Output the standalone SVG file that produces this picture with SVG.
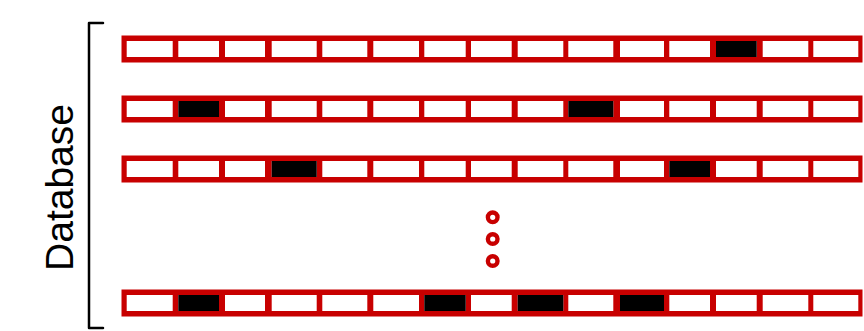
<svg xmlns="http://www.w3.org/2000/svg" xmlns:xlink="http://www.w3.org/1999/xlink" width="864" height="331" viewBox="0 0 864 331">
  <style>
    .bar { fill: #c80000; }
    .cell { fill: #ffffff; }
    .on { fill: #000000; }
    .dot { fill: none; stroke: #c80000; stroke-width: 4.4; }
    .bracket { fill: none; stroke: #000000; stroke-width: 2.5; stroke-linecap: round; stroke-linejoin: round; }
    .label { font-family: "Liberation Sans", Arial, sans-serif; font-size: 39px; fill: #000000; }
  </style>
  <defs>
    <g id="row">
      <rect class="bar" x="121.5" y="0" width="741" height="27"/>
      <rect class="cell" x="126.7" y="5.5" width="46" height="16"/>
      <rect class="cell" x="178.3" y="5.5" width="40.7" height="16"/>
      <rect class="cell" x="225" y="5.5" width="40" height="16"/>
      <rect class="cell" x="271.7" y="5.5" width="45" height="16"/>
      <rect class="cell" x="322.3" y="5.5" width="45" height="16"/>
      <rect class="cell" x="373.3" y="5.5" width="45.7" height="16"/>
      <rect class="cell" x="424.3" y="5.5" width="41.4" height="16"/>
      <rect class="cell" x="471" y="5.5" width="40.7" height="16"/>
      <rect class="cell" x="517.7" y="5.5" width="45.6" height="16"/>
      <rect class="cell" x="568.3" y="5.5" width="45" height="16"/>
      <rect class="cell" x="620" y="5.5" width="44" height="16"/>
      <rect class="cell" x="669.3" y="5.5" width="40.7" height="16"/>
      <rect class="cell" x="716" y="5.5" width="40.7" height="16"/>
      <rect class="cell" x="762.7" y="5.5" width="45.6" height="16"/>
      <rect class="cell" x="813.3" y="5.5" width="45" height="16"/>
    </g>
  </defs>

  <g id="row1" transform="translate(0,35.5)">
    <use href="#row" xlink:href="#row"/>
    <rect class="on" x="716" y="5.5" width="40.7" height="16"/>
  </g>

  <g id="row2" transform="translate(0,95.5)">
    <use href="#row" xlink:href="#row"/>
    <rect class="on" x="178.3" y="5.5" width="40.7" height="16"/>
    <rect class="on" x="568.3" y="5.5" width="45" height="16"/>
  </g>

  <g id="row3" transform="translate(0,155.5)">
    <use href="#row" xlink:href="#row"/>
    <rect class="on" x="271.7" y="5.5" width="45" height="16"/>
    <rect class="on" x="669.3" y="5.5" width="40.7" height="16"/>
  </g>

  <g id="row4" transform="translate(0,289.5)">
    <use href="#row" xlink:href="#row"/>
    <rect class="on" x="178.3" y="5.5" width="40.7" height="16"/>
    <rect class="on" x="424.3" y="5.5" width="41.4" height="16"/>
    <rect class="on" x="517.7" y="5.5" width="45.6" height="16"/>
    <rect class="on" x="620" y="5.5" width="44" height="16"/>
  </g>

  <g id="ellipsis">
    <circle class="dot" cx="492.7" cy="217.3" r="4.8"/>
    <circle class="dot" cx="492.7" cy="239" r="4.8"/>
    <circle class="dot" cx="492.7" cy="261" r="4.8"/>
  </g>

  <g id="database">
    <path class="bracket" d="M103,23 L89,23 L89,328 L103,328"/>
    <text class="label" transform="translate(73,187.5) rotate(-90)" text-anchor="middle">Database</text>
  </g>
</svg>
